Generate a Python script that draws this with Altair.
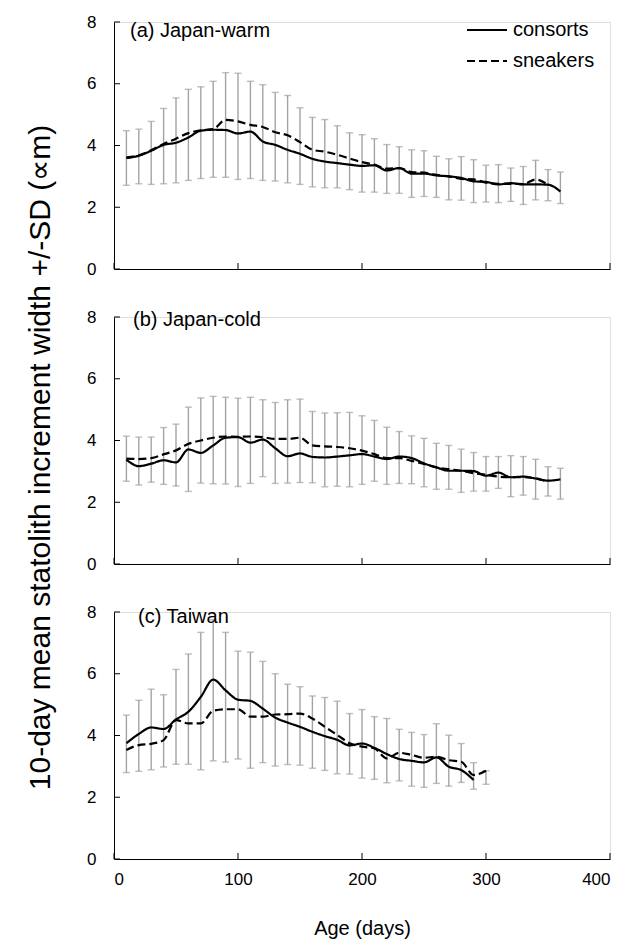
import altair as alt
import pandas as pd

FONT = "Liberation Sans"
series = ["consorts", "sneakers"]
x_ticks = [0, 100, 200, 300, 400]
y_ticks = [0, 2, 4, 6, 8]
panel_labels = ["(a) Japan-warm", "(b) Japan-cold", "(c) Taiwan"]
x_title = "Age (days)"
y_title = "10-day mean statolith increment width +/-SD (\u221dm)"

# ---- (a) Japan-warm ----
a_days = list(range(10, 370, 10))
a_cons = [3.59, 3.67, 3.83, 4.02, 4.09, 4.26, 4.48, 4.51, 4.50, 4.39, 4.45, 4.13,
          4.02, 3.86, 3.73, 3.57, 3.48, 3.43, 3.38, 3.34, 3.36, 3.19, 3.27, 3.09,
          3.09, 3.03, 3.00, 2.95, 2.84, 2.82, 2.74, 2.78, 2.74, 2.74, 2.73, 2.51]
a_sneak_days = list(range(10, 360, 10))
a_sneak = [3.62, 3.68, 3.85, 4.05, 4.22, 4.40, 4.49, 4.53, 4.83, 4.78, 4.67, 4.60,
           4.43, 4.33, 4.11, 3.86, 3.80, 3.70, 3.58, 3.46, 3.38, 3.25, 3.27, 3.14,
           3.12, 3.05, 3.00, 2.92, 2.90, 2.80, 2.76, 2.76, 2.75, 2.90, 2.73]
a_hi = [4.48, 4.53, 4.78, 5.20, 5.54, 5.82, 5.90, 6.08, 6.36, 6.34, 6.08, 5.97,
        5.72, 5.62, 5.22, 4.91, 4.84, 4.64, 4.41, 4.35, 4.22, 4.03, 3.96, 3.86,
        3.83, 3.65, 3.57, 3.64, 3.54, 3.36, 3.38, 3.27, 3.32, 3.52, 3.22, 3.14]
a_lo = [2.71, 2.76, 2.74, 2.76, 2.79, 2.87, 2.93, 2.97, 2.97, 2.90, 2.93, 2.87,
        2.85, 2.79, 2.74, 2.66, 2.63, 2.63, 2.57, 2.49, 2.49, 2.45, 2.45, 2.32,
        2.35, 2.32, 2.24, 2.23, 2.15, 2.17, 2.15, 2.19, 2.09, 2.24, 2.21, 2.12]

# ---- (b) Japan-cold ----
b_days = list(range(10, 370, 10))
b_cons = [3.38, 3.17, 3.25, 3.36, 3.29, 3.71, 3.60, 3.84, 4.09, 4.11, 3.93, 4.03,
          3.75, 3.49, 3.58, 3.47, 3.45, 3.48, 3.52, 3.56, 3.48, 3.40, 3.48, 3.43,
          3.26, 3.13, 3.02, 3.02, 3.01, 2.86, 2.96, 2.81, 2.83, 2.77, 2.70, 2.74]
b_sneak_days = list(range(10, 360, 10))
b_sneak = [3.41, 3.40, 3.43, 3.55, 3.68, 3.89, 4.00, 4.09, 4.13, 4.12, 4.13, 4.11,
           4.05, 4.05, 4.09, 3.84, 3.81, 3.79, 3.75, 3.67, 3.56, 3.43, 3.43, 3.34,
           3.24, 3.13, 3.07, 3.02, 2.94, 2.89, 2.83, 2.81, 2.81, 2.77, 2.66]
b_hi = [4.14, 4.11, 4.11, 4.42, 4.53, 5.08, 5.38, 5.43, 5.40, 5.37, 5.40, 5.32,
        5.23, 5.32, 5.34, 4.94, 4.89, 4.90, 4.91, 4.80, 4.65, 4.43, 4.29, 4.15,
        4.07, 3.91, 3.84, 3.72, 3.61, 3.48, 3.48, 3.51, 3.48, 3.39, 3.15, 3.10]
b_lo = [2.68, 2.56, 2.65, 2.58, 2.53, 2.35, 2.62, 2.60, 2.59, 2.51, 2.61, 2.83,
        2.61, 2.62, 2.64, 2.63, 2.50, 2.52, 2.50, 2.58, 2.68, 2.58, 2.61, 2.60,
        2.50, 2.42, 2.42, 2.32, 2.36, 2.36, 2.45, 2.18, 2.23, 2.10, 2.20, 2.10]

# ---- (c) Taiwan ----
c_err_days = list(range(10, 310, 10))
c_cons_days = list(range(10, 300, 10))
c_cons = [3.75, 4.05, 4.26, 4.21, 4.52, 4.77, 5.25, 5.81, 5.46, 5.16, 5.12, 4.87,
          4.58, 4.42, 4.28, 4.12, 3.98, 3.86, 3.68, 3.74, 3.60, 3.40, 3.24, 3.18,
          3.13, 3.29, 2.99, 2.88, 2.56]
c_sneak_days = list(range(10, 310, 10))
c_sneak = [3.53, 3.69, 3.73, 3.85, 4.50, 4.39, 4.39, 4.80, 4.85, 4.85, 4.61, 4.61,
           4.68, 4.69, 4.71, 4.55, 4.28, 4.02, 3.75, 3.64, 3.58, 3.26, 3.44, 3.37,
           3.28, 3.31, 3.20, 3.15, 2.72, 2.86]
c_hi = [4.66, 5.14, 5.50, 5.32, 6.14, 6.64, 7.34, 7.75, 7.34, 6.73, 6.70, 6.40,
        6.00, 5.66, 5.58, 5.28, 5.23, 5.11, 4.71, 4.84, 4.61, 4.55, 4.20, 4.10,
        4.03, 4.38, 4.01, 3.74, 3.12, 2.86]
c_lo = [2.80, 2.84, 2.89, 2.98, 3.07, 3.07, 2.89, 3.18, 3.14, 3.24, 2.94, 3.12,
        3.01, 3.06, 3.04, 2.94, 2.87, 2.76, 2.75, 2.62, 2.58, 2.47, 2.53, 2.36,
        2.32, 2.45, 2.36, 2.48, 2.26, 2.42]

W = 496
H = 247
ERR_COLOR = "#a3a3a3"


def panel(label, label_x, label_y, err_days, lo, hi, cons_days, cons,
          sneak_days, sneak, bottom=False, legend=False, ytitle=False):
    xs = alt.Scale(domain=[0, 400], nice=False, zero=False)
    ys = alt.Scale(domain=[0, 8], nice=False)
    err = pd.DataFrame({"day": err_days, "lo": lo, "hi": hi})
    lines = pd.concat([
        pd.DataFrame({"day": cons_days, "v": cons, "s": series[0]}),
        pd.DataFrame({"day": sneak_days, "v": sneak, "s": series[1]}),
    ])
    xaxis_kw = dict(values=x_ticks, ticks=False, grid=False, domainColor="black",
                    domainWidth=1, labelFont=FONT, labelFontSize=17,
                    labelColor="black", labelPadding=12, labels=bottom,
                    titleFont=FONT, titleFontSize=20, titleFontWeight="normal",
                    titleColor="black", titlePadding=31)
    yaxis_kw = dict(values=y_ticks, ticks=False, grid=False, domainColor="black",
                    domainWidth=1, labelFont=FONT, labelFontSize=17,
                    labelColor="black", labelPadding=18)
    if ytitle:
        yaxis_kw.update(titleFont=FONT, titleFontSize=30, titleFontWeight="normal",
                        titleColor="black", titleX=-89, titleY=140,
                        titleAngle=270, titleAlign="center", titleBaseline="top")
    xenc = alt.X("day:Q", scale=xs, axis=alt.Axis(**xaxis_kw),
                 title=x_title if bottom else None)
    yenc = alt.Y("lo:Q", scale=ys, axis=alt.Axis(**yaxis_kw),
                 title=y_title if ytitle else None)

    base_err = alt.Chart(err)
    rules = base_err.mark_rule(color=ERR_COLOR, strokeWidth=1.4).encode(
        x=xenc, y=yenc, y2="hi:Q")
    cap_lo = base_err.mark_tick(color=ERR_COLOR, orient="horizontal", size=7,
                                thickness=1.4).encode(x="day:Q", y="lo:Q")
    cap_hi = base_err.mark_tick(color=ERR_COLOR, orient="horizontal", size=7,
                                thickness=1.4).encode(x="day:Q", y="hi:Q")

    if legend:
        leg = alt.Legend(orient="none", legendX=352, legendY=-13, title=None,
                         symbolType="stroke", symbolSize=1600,
                         symbolStrokeWidth=2, symbolStrokeColor="black",
                         labelFont=FONT, labelFontSize=20, labelColor="black",
                         labelOffset=5, rowPadding=-5)
    else:
        leg = None
    dash = alt.StrokeDash("s:N", scale=alt.Scale(domain=series,
                                                  range=[[1, 0], [8, 4]]),
                          legend=leg)
    line = alt.Chart(lines).mark_line(color="black", strokeWidth=2.2,
                                      interpolate="monotone").encode(
        x="day:Q", y="v:Q", strokeDash=dash, detail="s:N")

    ytk = alt.Chart(pd.DataFrame({"t": y_ticks})).mark_rule(
        color="black", strokeWidth=1).encode(
        y="t:Q", x=alt.value(0), x2=alt.value(6))
    xtk = alt.Chart(pd.DataFrame({"t": x_ticks})).mark_rule(
        color="black", strokeWidth=1).encode(
        x="t:Q", y=alt.value(H), y2=alt.value(H - 6))
    txt = alt.Chart(pd.DataFrame({"l": [label]})).mark_text(
        font=FONT, fontSize=20, align="left", baseline="middle",
        color="black").encode(text="l:N", x=alt.value(label_x),
                              y=alt.value(label_y))
    return alt.layer(rules, cap_lo, cap_hi, line, ytk, xtk, txt).properties(
        width=W, height=H)


pa = panel(panel_labels[0], 16, 9, a_days, a_lo, a_hi, a_days, a_cons,
           a_sneak_days, a_sneak, legend=True)
pb = panel(panel_labels[1], 19, 3, b_days, b_lo, b_hi, b_days, b_cons,
           b_sneak_days, b_sneak, ytitle=True)
pc = panel(panel_labels[2], 24, 5, c_err_days, c_lo, c_hi, c_cons_days,
           c_cons, c_sneak_days, c_sneak, bottom=True)

chart = alt.vconcat(pa, pb, pc, spacing=48, bounds="flush").resolve_legend(
    strokeDash="independent").properties(
    padding={"left": 24, "top": 8, "right": 5, "bottom": 5}
).configure_view(stroke=None).configure(background="white")

chart.save("out.html", embed_options={"renderer": "svg", "actions": False})
